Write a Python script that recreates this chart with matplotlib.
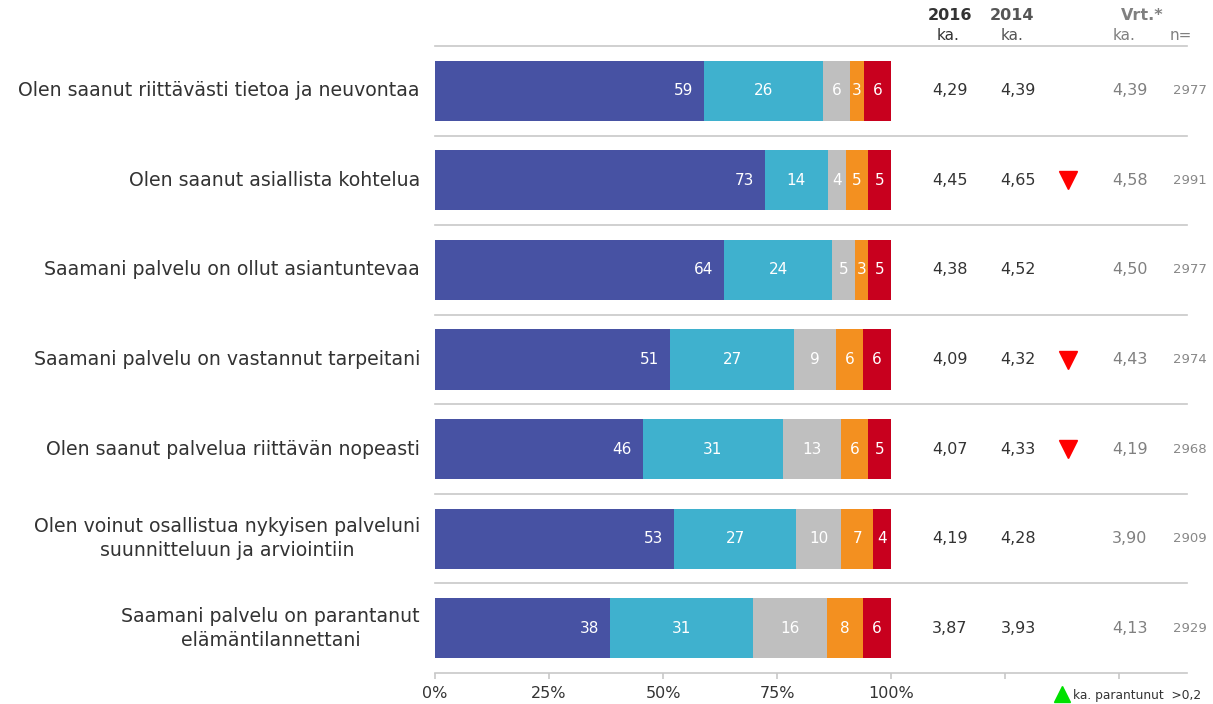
import matplotlib.pyplot as plt
import numpy as np

# data
questions = [
    'Olen saanut riittävästi tietoa ja neuvontaa',
    'Olen saanut asiallista kohtelua',
    'Saamani palvelu on ollut asiantuntevaa',
    'Saamani palvelu on vastannut tarpeitani',
    'Olen saanut palvelua riittävän nopeasti',
    'Olen voinut osallistua nykyisen palveluni\nsuunnitteluun ja arviointiin',
    'Saamani palvelu on parantanut\nelämäntilannettani',
]
shares = [
    [59, 26, 6, 3, 6],
    [73, 14, 4, 5, 5],
    [64, 24, 5, 3, 5],
    [51, 27, 9, 6, 6],
    [46, 31, 13, 6, 5],
    [53, 27, 10, 7, 4],
    [38, 31, 16, 8, 6],
]
ka_2016 = ['4,29', '4,45', '4,38', '4,09', '4,07', '4,19', '3,87']
ka_2014 = ['4,39', '4,65', '4,52', '4,32', '4,33', '4,28', '3,93']
worse = [False, True, False, True, True, False, False]
ka_vrt = ['4,39', '4,58', '4,50', '4,43', '4,19', '3,90', '4,13']
n_vrt = ['2977', '2991', '2977', '2974', '2968', '2909', '2929']

colors = ['#4752A3', '#3FB1CE', '#BFBFBF', '#F39020', '#C8001E']

fig = plt.figure(figsize=(12.13, 7.04), dpi=100)
ax = fig.add_axes([435 / 1213, 1 - 673 / 704, 752 / 1213, 627 / 704])

arr = np.array(shares, dtype=float)
widths = arr / arr.sum(axis=1, keepdims=True) * 100
y = np.arange(len(questions))

left = np.zeros(len(questions))
for j in range(arr.shape[1]):
    ax.barh(y, widths[:, j], left=left, height=0.67, color=colors[j], linewidth=0)
    for i in range(len(questions)):
        if j == 0:
            ax.text(left[i] + widths[i, j] - 2.4, y[i], str(shares[i][j]), ha='right', va='center',
                    color='white', fontsize=11)
        else:
            ax.text(left[i] + widths[i, j] / 2, y[i], str(shares[i][j]), ha='center', va='center',
                    color='white', fontsize=11)
    left += widths[:, j]

# row separators
for s in np.arange(-0.5, len(questions) - 1, 1.0):
    ax.plot([0, 164.9], [s, s], color='#C8C8C8', lw=1.2, clip_on=False)

# category labels
for i, q in enumerate(questions):
    ax.text(-3.3, y[i], q, ha='right', va='center', multialignment='center', fontsize=13.6,
            color='#333333', linespacing=1.35)

# right-hand columns
for i in range(len(questions)):
    ax.text(112.9, y[i], ka_2016[i], ha='center', va='center', fontsize=11.5, color='#333333')
    ax.text(127.9, y[i], ka_2014[i], ha='center', va='center', fontsize=11.5, color='#333333')
    if worse[i]:
        ax.plot(138.8, y[i], marker='v', markersize=13, color='#FF0000', clip_on=False)
    ax.text(152.4, y[i], ka_vrt[i], ha='center', va='center', fontsize=11.5, color='#808080')
    ax.text(165.6, y[i], n_vrt[i], ha='center', va='center', fontsize=9.5, color='#888888')

# headers
ax.text(112.9, -0.84, '2016', ha='center', va='center', fontsize=11.5, fontweight='bold', color='#333333')
ax.text(126.5, -0.84, '2014', ha='center', va='center', fontsize=11.5, fontweight='bold', color='#555555')
ax.text(155.0, -0.84, 'Vrt.*', ha='center', va='center', fontsize=11.5, fontweight='bold', color='#808080')
ax.text(112.5, -0.62, 'ka.', ha='center', va='center', fontsize=11, color='#333333')
ax.text(126.5, -0.62, 'ka.', ha='center', va='center', fontsize=11, color='#555555')
ax.text(151.0, -0.62, 'ka.', ha='center', va='center', fontsize=11, color='#808080')
ax.text(163.6, -0.62, 'n=', ha='center', va='center', fontsize=11, color='#808080')

# legend
ax.plot(137.5, 6.73, marker='^', markersize=12, color='#00E000', clip_on=False)
ax.text(139.9, 6.75, 'ka. parantunut  >0,2', ha='left', va='center', fontsize=8.8, color='#333333')

ax.set_xticks(np.arange(0, 176, 25))
ax.set_xticklabels(['0%', '25%', '50%', '75%', '100%', '', '', ''])
ax.set_xlim(0, 164.9)
ax.set_ylim(6.5, -0.5)
ax.set_yticks([])
for side in ['top', 'right', 'left']:
    ax.spines[side].set_visible(False)
ax.spines['bottom'].set_color('#C8C8C8')
ax.spines['bottom'].set_linewidth(1.2)
ax.tick_params(axis='x', colors='#C8C8C8', length=4, width=1.2, labelcolor='#333333', labelsize=11.5, pad=5)

fig.savefig('out.png', dpi=100)
